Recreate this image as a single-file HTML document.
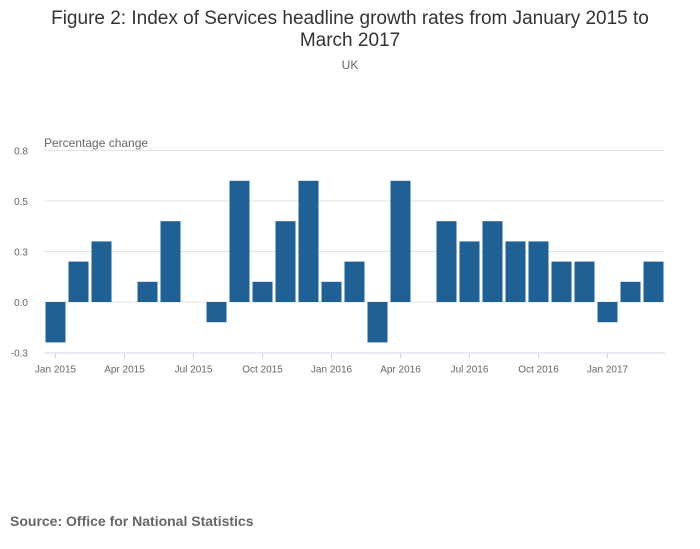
<!DOCTYPE html>
<html><head><meta charset="utf-8">
<style>
body{margin:0;background:#fff;font-family:"Liberation Sans",sans-serif;}
#wrap{position:relative;width:700px;height:549px;overflow:hidden;}
</style></head>
<body>
<div id="wrap">
<svg id="chart" width="700" height="549">
<text x="350" y="24" text-anchor="middle" font-size="19" fill="#333">Figure 2: Index of Services headline growth rates from January 2015 to</text>
<text x="350" y="46" text-anchor="middle" font-size="19" fill="#333">March 2017</text>
<text x="350" y="69" text-anchor="middle" font-size="12" fill="#666">UK</text>
<text x="44" y="147" font-size="12" fill="#666">Percentage change</text>
<text x="10" y="526" font-size="14" font-weight="bold" fill="#666">Source: Office for National Statistics</text>
<g id="grid"></g><g id="bars"></g><g id="axes"></g>
</svg>
</div>
<script>
const categories=["Jan 2015","Feb 2015","Mar 2015","Apr 2015","May 2015","Jun 2015","Jul 2015","Aug 2015","Sep 2015","Oct 2015","Nov 2015","Dec 2015","Jan 2016","Feb 2016","Mar 2016","Apr 2016","May 2016","Jun 2016","Jul 2016","Aug 2016","Sep 2016","Oct 2016","Nov 2016","Dec 2016","Jan 2017","Feb 2017","Mar 2017"];
const values=[-0.2,0.2,0.3,0,0.1,0.4,0,-0.1,0.6,0.1,0.4,0.6,0.1,0.2,-0.2,0.6,0,0.4,0.3,0.4,0.3,0.3,0.2,0.2,-0.1,0.1,0.2];
const yTicks=[-0.25,0,0.25,0.5,0.75];
const yTickLabels=["-0.3","0.0","0.3","0.5","0.8"];
const xLabelIdx=[0,3,6,9,12,15,18,21,24];
const xLabels=["Jan 2015","Apr 2015","Jul 2015","Oct 2015","Jan 2016","Apr 2016","Jul 2016","Oct 2016","Jan 2017"];

const NS="http://www.w3.org/2000/svg";
const left=44,right=665,y0=302,pxPer=202;
const y=v=>y0-v*pxPer;
const step=(right-left)/categories.length;
const x=i=>left+step*(i+0.5);
function mk(t,a,p){const e=document.createElementNS(NS,t);for(const k in a)e.setAttribute(k,a[k]);p.appendChild(e);return e;}
const grid=document.getElementById('grid'),bars=document.getElementById('bars'),axes=document.getElementById('axes');
yTicks.forEach((v,i)=>{
  if(v!==-0.25){const l=mk('line',{x1:left,x2:right,y1:y(v),y2:y(v),stroke:'#e3e3e3'},grid);
  
  }
  const t=mk('text',{x:28,y:y(v)+4,'text-anchor':'end','font-size':'10',fill:'#666'},axes);
  t.textContent=yTickLabels[i];
  
  
});
values.forEach((v,i)=>{
  const r=mk('rect',{x:x(i)-10,width:20,y:Math.min(y(v),y0),height:Math.abs(y(v)-y0),fill:'#206095'},bars);
  
  
});
const ax=mk('line',{x1:left,x2:right,y1:y(-0.25)+0.5,y2:y(-0.25)+0.5,stroke:'#ccd6eb'},axes);


xLabelIdx.forEach((idx,i)=>{
  const tk=mk('line',{x1:x(idx),x2:x(idx),y1:y(-0.25),y2:y(-0.25)+6,stroke:'#ccd6eb'},axes);
  
  
  const t=mk('text',{x:x(idx),y:y(-0.25)+20,'text-anchor':'middle','font-size':'10',fill:'#666'},axes);
  t.textContent=xLabels[i];
  
  
});
</script>
</body></html>
